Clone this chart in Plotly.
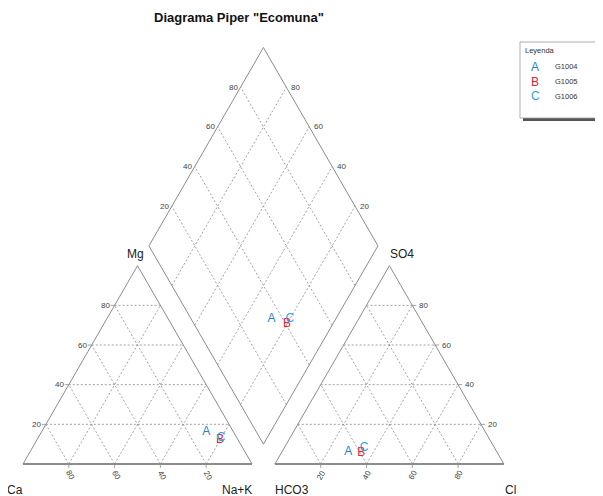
import plotly.graph_objects as go
import math

# ---- data (percent of meq) ----
samples = ["G1004", "G1005", "G1006"]
letters = ["A", "B", "C"]
colors = ["#2a7fd4", "#e3262f", "#2d9fe6"]
Ca = [12, 8, 7]
Mg = [16, 12, 13]
NaK = [72, 80, 80]
SO4 = [6, 5.5, 8]
Cl = [29, 35, 35]
HCO3 = [65, 59.5, 57]

left_bottom_ticks = ["80", "60", "40", "20"]
right_bottom_ticks = ["20", "40", "60", "80"]
side_ticks = ["20", "40", "60", "80"]

H = math.sqrt(3) / 2
OFF = 1.1  # right triangle x offset
B0 = (1.05, 0.05 * math.sqrt(3))  # diamond bottom vertex
D1 = (-0.5, H)
D2 = (0.5, H)

BODY = 8  # page body margin
PX = 229.0  # pixels per unit
X0, Y0 = 23.0 - BODY, 464.0 - BODY  # figure pixel of origin
W, Hpx = 603, 496

def fx(px):  # window pixel x -> paper
    return (px - BODY) / W

def fy(py):  # window pixel y -> paper
    return 1 - (py - BODY) / Hpx

def dia(a, b):
    return (B0[0] + a * D1[0] + b * D2[0], B0[1] + a * D1[1] + b * D2[1])

fig = go.Figure()

def add_lines(segs, color, width, dash):
    xs, ys = [], []
    for (p, q) in segs:
        xs += [p[0], q[0], None]
        ys += [p[1], q[1], None]
    fig.add_trace(go.Scatter(x=xs, y=ys, mode="lines",
                             line=dict(color=color, width=width, dash=dash),
                             hoverinfo="skip", showlegend=False))

grid = []
fracs = [0.2, 0.4, 0.6, 0.8]
for ox in (0.0, OFF):
    for k in fracs:
        grid.append(((ox + k / 2, k * H), (ox + 1 - k / 2, k * H)))
        grid.append(((ox + k, 0), (ox + k + (1 - k) / 2, (1 - k) * H)))
        grid.append(((ox + 1 - k, 0), (ox + (1 - k) / 2, (1 - k) * H)))
for k in fracs:
    grid.append((dia(k, 0), dia(k, 1)))
    grid.append((dia(0, k), dia(1, k)))
add_lines(grid, "#8a8a8a", 0.8, "2px,2px")

# outlines
sides = []
for ox in (0.0, OFF):
    sides.append(((ox, 0), (ox + 0.5, H)))
    sides.append(((ox + 0.5, H), (ox + 1, 0)))
sides += [(dia(0, 0), dia(1, 0)), (dia(1, 0), dia(1, 1)),
          (dia(1, 1), dia(0, 1)), (dia(0, 1), dia(0, 0))]
add_lines(sides, "#8c8c8c", 1, "solid")
add_lines([((0, 0), (1, 0)), ((OFF, 0), (OFF + 1, 0))], "#8c8c8c", 2, "solid")

# small tick marks
tk = 4 / PX
ticks = []
for k in fracs:
    ticks.append(((k, 0), (k, -tk)))
    ticks.append(((OFF + k, 0), (OFF + k, -tk)))
    ticks.append(((k / 2, k * H), (k / 2 - tk, k * H)))
    ticks.append(((OFF + 1 - k / 2, k * H), (OFF + 1 - k / 2 + tk, k * H)))
add_lines(ticks, "#8c8c8c", 0.8, "solid")

# data points
for i in range(len(samples)):
    lx = NaK[i] / 100 + Mg[i] / 200
    ly = Mg[i] / 100 * H
    rx = OFF + Cl[i] / 100 + SO4[i] / 200
    ry = SO4[i] / 100 * H
    dx, dy = dia((Ca[i] + Mg[i]) / 100, (SO4[i] + Cl[i]) / 100)
    fig.add_trace(go.Scatter(x=[lx, rx, dx], y=[ly, ry, dy], mode="text",
                             text=[letters[i]] * 3,
                             textfont=dict(color=colors[i], size=12, family="Liberation Sans, Arial"),
                             textposition="middle center", hoverinfo="skip", showlegend=False))

ann = []
tf = dict(family="Liberation Sans, Arial", size=8, color="#444444")
for j, k in enumerate(fracs):
    ann.append(dict(x=k, y=0, text=left_bottom_ticks[j], textangle=60, yshift=-11, xshift=2,
                    showarrow=False, font=tf))
    ann.append(dict(x=OFF + k, y=0, text=right_bottom_ticks[j], textangle=-60, yshift=-11, xshift=0,
                    showarrow=False, font=tf))
    ann.append(dict(x=k / 2, y=k * H, text=side_ticks[j], xanchor="right", xshift=-3,
                    showarrow=False, font=tf))
    ann.append(dict(x=OFF + 1 - k / 2, y=k * H, text=side_ticks[j], xanchor="left", xshift=5,
                    showarrow=False, font=tf))
    p = dia(1, k)
    ann.append(dict(x=p[0], y=p[1], text=side_ticks[j], xanchor="right", xshift=-1,
                    showarrow=False, font=tf))
    p = dia(k, 1)
    ann.append(dict(x=p[0], y=p[1], text=side_ticks[j], xanchor="left", xshift=3,
                    showarrow=False, font=tf))

lf = dict(family="Liberation Sans, Arial", size=12, color="#222222")
def ux(px):
    return (px - 23.0) / PX
by = -26 / PX
ann += [
    dict(x=0.5, y=H, text="Mg", yshift=12, xshift=-2, showarrow=False, font=lf),
    dict(x=OFF + 0.5, y=H, text="SO4", yshift=12, xshift=13, showarrow=False, font=lf),
    dict(x=ux(15), y=by, text="Ca", showarrow=False, font=lf),
    dict(x=ux(237), y=by, text="Na+K", showarrow=False, font=lf),
    dict(x=ux(292), y=by, text="HCO3", showarrow=False, font=lf),
    dict(x=ux(510), y=by, text="Cl", showarrow=False, font=lf),
]

# title
ann.append(dict(xref="paper", yref="paper", x=fx(239), y=1.0, xanchor="center", yanchor="top",
                text="<b>Diagrama Piper \"Ecomuna\"</b>",
                showarrow=False, font=dict(family="Liberation Sans, Arial", size=13, color="#111111")))

# legend box
shapes = [
    dict(type="rect", xref="paper", yref="paper", x0=fx(523), x1=fx(601), y0=fy(121), y1=fy(45),
         fillcolor="#555555", line=dict(width=0)),
    dict(type="rect", xref="paper", yref="paper", x0=fx(520), x1=fx(598), y0=fy(118), y1=fy(42),
         fillcolor="white", line=dict(color="#999999", width=0.8)),
]
ann.append(dict(xref="paper", yref="paper", x=fx(523), y=fy(51), text="Leyenda", xanchor="left",
                yanchor="middle", showarrow=False,
                font=dict(family="Liberation Sans, Arial", size=7.5, color="#333333")))
for i in range(len(samples)):
    yy = fy(67 + 14.5 * i)
    ann.append(dict(xref="paper", yref="paper", x=fx(535), y=yy, text=letters[i], showarrow=False,
                    xanchor="center", yanchor="middle",
                    font=dict(family="Liberation Sans, Arial", size=12, color=colors[i])))
    ann.append(dict(xref="paper", yref="paper", x=fx(553), y=yy, text=samples[i], xanchor="left",
                    yanchor="middle", showarrow=False,
                    font=dict(family="Liberation Sans, Arial", size=7.5, color="#333333")))

fig.update_layout(
    width=W, height=Hpx, margin=dict(l=0, r=0, t=0, b=0),
    paper_bgcolor="white", plot_bgcolor="white",
    xaxis=dict(range=[-X0 / PX, (W - X0) / PX], visible=False, fixedrange=True),
    yaxis=dict(range=[(Y0 - Hpx) / PX, Y0 / PX], visible=False, fixedrange=True),
    annotations=ann, shapes=shapes, showlegend=False,
)

fig.write_html("out.html")
